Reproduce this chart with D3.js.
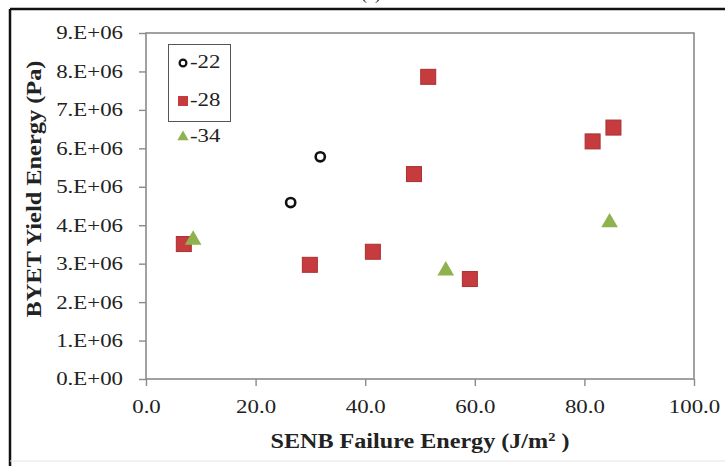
<!DOCTYPE html>
<html>
<head>
<meta charset="utf-8">
<script src="https://cdn.jsdelivr.net/npm/d3@7"></script>
<style>
  body { margin: 0; background: #fff; }
  svg text { font-family: "Liberation Serif", Tinos, "Times New Roman", Times, "DejaVu Serif", serif !important; fill: #222; }
</style>
</head>
<body>
<div id="chart"></div>
<script>
// Data
var xTicks = [0, 20, 40, 60, 80, 100];
var yTicks = [0, 1e6, 2e6, 3e6, 4e6, 5e6, 6e6, 7e6, 8e6, 9e6];

var seriesNames = ["-22", "-28", "-34"];

var x22 = [26.4, 31.8];
var y22 = [4.59e6, 5.78e6];

var x28 = [6.9, 29.9, 41.4, 48.9, 51.5, 59.1, 81.5, 85.3];
var y28 = [3.51e6, 2.97e6, 3.31e6, 5.33e6, 7.86e6, 2.60e6, 6.18e6, 6.54e6];

var x34 = [8.6, 54.7, 84.6];
var y34 = [3.62e6, 2.82e6, 4.07e6];

var svgWidth = 725;
var svgHeight = 466;

var margin = { top: 33, right: 30, bottom: 87, left: 146 };
var width = 694 - margin.left;
var height = 379 - margin.top;

var serif = '"Liberation Serif", Tinos, "Times New Roman", Times, "DejaVu Serif", serif';

// stretch text horizontally, the source picture is wider than tall
var kx = 1.27;
function stretch(sel, k) {
  sel.each(function() {
    var w = this.getComputedTextLength();
    d3.select(this).attr("textLength", w * k).attr("lengthAdjust", "spacingAndGlyphs");
  });
}

var svg = d3.select("#chart")
  .append("svg")
  .attr("width", svgWidth)
  .attr("height", svgHeight)
  .style("font-family", serif);

svg.append("rect")
  .attr("width", svgWidth)
  .attr("height", svgHeight)
  .attr("fill", "#fff");

// panel label, cut off at the top as in the source
svg.append("text")
  .attr("x", 371)
  .attr("y", -1)
  .attr("text-anchor", "middle")
  .attr("font-size", 18)
  .text("(a)");

// figure frame
svg.append("line").attr("x1", 10).attr("x2", 725).attr("y1", 9).attr("y2", 9)
  .attr("stroke", "#111").attr("stroke-width", 2.5);
svg.append("line").attr("x1", 10).attr("x2", 10).attr("y1", 9).attr("y2", 466)
  .attr("stroke", "#111").attr("stroke-width", 2.5);
svg.append("line").attr("x1", 10).attr("x2", 725).attr("y1", 461).attr("y2", 461)
  .attr("stroke", "#e4e4e4").attr("stroke-width", 1);

var chartGroup = svg.append("g")
  .attr("transform", `translate(${margin.left}, ${margin.top})`);

var xScale = d3.scaleLinear().domain([0, 100]).range([0, width]);
var yScale = d3.scaleLinear().domain([0, 9e6]).range([height, 0]);

// plot frame
chartGroup.append("rect")
  .attr("width", width)
  .attr("height", height)
  .attr("fill", "none")
  .attr("stroke", "#8a8a8a")
  .attr("stroke-width", 1.6);

var bottomAxis = d3.axisBottom(xScale)
  .tickValues(xTicks)
  .tickSize(7)
  .tickFormat(d3.format(".1f"));

var leftAxis = d3.axisLeft(yScale)
  .tickValues(yTicks)
  .tickSize(7)
  .tickFormat(d => d === 0 ? "0.E+00" : (d / 1e6) + ".E+06");

var xAxis = chartGroup.append("g")
  .attr("transform", `translate(0, ${height})`)
  .call(bottomAxis);

var yAxis = chartGroup.append("g")
  .call(leftAxis);

[xAxis, yAxis].forEach(function(ax) {
  ax.attr("font-family", null).attr("font-size", null);
  ax.select(".domain").remove();
  ax.selectAll("line").attr("stroke", "#8a8a8a").attr("stroke-width", 1.4);
  ax.selectAll("text")
    .style("font-family", serif)
    .attr("font-size", 18)
    .attr("fill", "#333");
});

xAxis.selectAll("text").attr("y", 34).attr("dy", 0);
yAxis.selectAll("text").attr("x", -23).attr("dy", "0.33em");
stretch(xAxis.selectAll("text"), kx);
stretch(yAxis.selectAll("text"), kx);

// axis titles
var xTitle = chartGroup.append("text")
  .attr("x", width / 2)
  .attr("y", height + 69)
  .attr("text-anchor", "middle")
  .attr("font-weight", "bold")
  .attr("font-size", 20)
  .attr("fill", "#111");
xTitle.append("tspan").text("SENB Failure Energy (J/m");
xTitle.append("tspan").attr("font-size", 12).attr("dy", -7).text("2");
xTitle.append("tspan").attr("dy", 7).text(" )");
xTitle.attr("textLength", 299).attr("lengthAdjust", "spacingAndGlyphs");

svg.append("text")
  .attr("transform", "translate(41, 189) rotate(-90)")
  .attr("text-anchor", "middle")
  .attr("font-weight", "bold")
  .attr("font-size", 21)
  .attr("fill", "#111")
  .attr("textLength", 257)
  .attr("lengthAdjust", "spacingAndGlyphs")
  .text("BYET Yield Energy (Pa)");

// points
var red = "#c63b3d";
var green = "#8fb24e";

var pts22 = x22.map((v, i) => ({ x: v, y: y22[i] }));
var pts28 = x28.map((v, i) => ({ x: v, y: y28[i] }));
var pts34 = x34.map((v, i) => ({ x: v, y: y34[i] }));

chartGroup.selectAll(".sq")
  .data(pts28)
  .enter()
  .append("rect")
  .attr("class", "sq")
  .attr("x", d => xScale(d.x) - 7.5)
  .attr("y", d => yScale(d.y) - 7.5)
  .attr("width", 15)
  .attr("height", 15)
  .attr("fill", red)
  .attr("stroke", "#a83034")
  .attr("stroke-width", 1);

var triangle = d3.symbol().type(d3.symbolTriangle).size(120);

chartGroup.selectAll(".tri")
  .data(pts34)
  .enter()
  .append("path")
  .attr("class", "tri")
  .attr("d", triangle)
  .attr("transform", d => `translate(${xScale(d.x)}, ${yScale(d.y)})`)
  .attr("fill", green);

chartGroup.selectAll(".circ")
  .data(pts22)
  .enter()
  .append("circle")
  .attr("class", "circ")
  .attr("cx", d => xScale(d.x))
  .attr("cy", d => yScale(d.y))
  .attr("r", 4.6)
  .attr("fill", "#fff")
  .attr("stroke", "#111")
  .attr("stroke-width", 2.6);

// legend
var legend = svg.append("g");
legend.append("rect")
  .attr("x", 168.5)
  .attr("y", 44.5)
  .attr("width", 62)
  .attr("height", 77)
  .attr("fill", "#fff")
  .attr("stroke", "#555")
  .attr("stroke-width", 1);

var legendY = [63, 101, 137];

legend.append("circle")
  .attr("cx", 183).attr("cy", legendY[0]).attr("r", 3.4)
  .attr("fill", "#fff").attr("stroke", "#111").attr("stroke-width", 2.2);
legend.append("rect")
  .attr("x", 178).attr("y", legendY[1] - 5).attr("width", 10).attr("height", 10)
  .attr("fill", red);
legend.append("path")
  .attr("d", d3.symbol().type(d3.symbolTriangle).size(55))
  .attr("transform", `translate(183, ${legendY[2]})`)
  .attr("fill", green);

var legendText = legend.selectAll(".lt")
  .data(seriesNames)
  .enter()
  .append("text")
  .attr("class", "lt")
  .attr("x", 190)
  .attr("y", (d, i) => legendY[i] + 5)
  .attr("font-size", 18)
  .attr("fill", "#333")
  .text(d => d);
stretch(legendText, kx);
</script>
</body>
</html>
